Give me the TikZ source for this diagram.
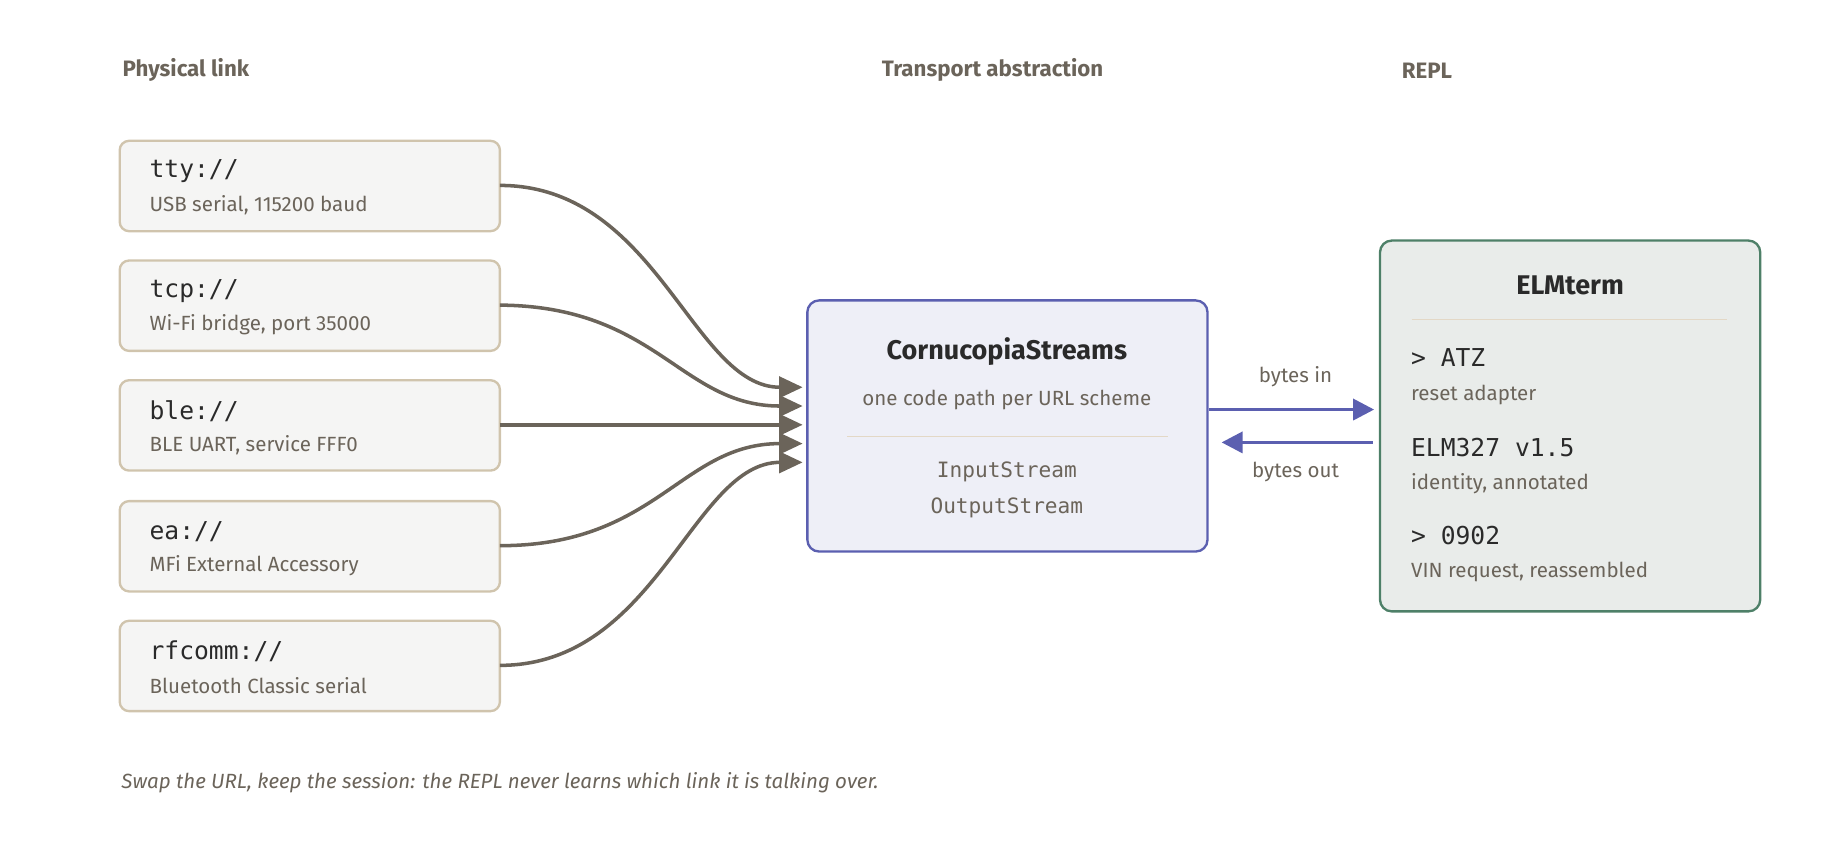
\documentclass[tikz,border=0pt]{standalone}
\usepackage{fontspec}
\setmainfont{Fira Sans}
\setmonofont{DejaVu Sans Mono}
\usetikzlibrary{arrows.meta}
\definecolor{ink}{HTML}{6B645A}
\definecolor{dark}{HTML}{2A2A2A}
\definecolor{lbord}{HTML}{D0C4AD}
\definecolor{lfill}{HTML}{F5F5F4}
\definecolor{cblue}{HTML}{5B5FB0}
\definecolor{cfill}{HTML}{EEEFF7}
\definecolor{gbord}{HTML}{4E8068}
\definecolor{gfill}{HTML}{E9ECEA}
\definecolor{rule}{HTML}{E3D8C6}
\begin{document}
\begin{tikzpicture}[x=1pt,y=-1pt,
  hdr/.style={anchor=west,text=ink,font=\fontsize{19}{19}\selectfont\bfseries},
  lbox/.style={draw=lbord,fill=lfill,line width=2pt,rounded corners=8pt},
  mono/.style={anchor=west,text=dark,font=\fontsize{21}{21}\ttfamily},
  sub/.style={anchor=west,text=ink,font=\fontsize{17.5}{17.5}\selectfont},
  conn/.style={draw=ink,line width=3pt,-{Triangle[length=20pt,width=18pt]}},
  barrow/.style={draw=cblue,line width=3pt,-{Triangle[length=18pt,width=18pt]}}]
\useasboundingbox (0,0) rectangle (1568,716);
\node[hdr] (h1) at (101,60) {Physical link};
\node[hdr] (h2) at (748,60) {Transport abstraction};
\node[hdr] (h3) at (1191,60) {REPL};
\foreach \n/\y/\a/\b in {tty/120/tty:\slash\slash/{USB serial, 115200 baud},
  tcp/222/tcp:\slash\slash/{Wi-Fi bridge, port 35000},
  ble/324/ble:\slash\slash/{BLE UART, service FFF0},
  ea/427/ea:\slash\slash/{MFi External Accessory},
  rf/529/rfcomm:\slash\slash/{Bluetooth Classic serial}}{
  \path[lbox] (102,\y) rectangle (426,\y+77);
  \coordinate (\n) at (426,\y+38);
  \node[mono] (\n t) at (124,\y+26) {\a};
  \node[sub] (\n s) at (124,\y+55) {\b};
}
\path[draw=cblue,fill=cfill,line width=2pt,rounded corners=10pt] (688,256) rectangle (1029,470);
\node[text=dark,font=\fontsize{23}{23}\selectfont\bfseries] (ct) at (858,300) {CornucopiaStreams};
\node[text=ink,font=\fontsize{17.5}{17.5}\selectfont] (cs) at (858,341) {one code path per URL scheme};
\draw[rule,line width=1pt] (722,372) -- (995,372);
\node[text=ink,font=\fontsize{18}{18}\ttfamily] (ci) at (858,402) {InputStream};
\node[text=ink,font=\fontsize{18}{18}\ttfamily] (co) at (858,433) {OutputStream};
\foreach \y/\n in {330/tty,346/tcp,362/ble,378/ea,394/rf}{\coordinate (t\n) at (684,\y);}
\draw[conn] (tty) .. controls (560,158) and (590,330) .. (ttty);
\draw[conn] (tcp) .. controls (560,261) and (580,346) .. (ttcp);
\draw[conn] (ble) -- (tble);
\draw[conn] (ea) .. controls (560,465) and (580,378) .. (tea);
\draw[conn] (rf) .. controls (560,567) and (590,394) .. (trf);
\coordinate (bi1) at (1030,349); \coordinate (bi2) at (1171,349);
\coordinate (bo1) at (1170,377); \coordinate (bo2) at (1041,377);
\draw[barrow] (bi1) -- (bi2);
\draw[barrow] (bo1) -- (bo2);
\node[text=ink,font=\fontsize{17.5}{17.5}\selectfont] (bil) at (1104,321) {bytes in};
\node[text=ink,font=\fontsize{17.5}{17.5}\selectfont] (bol) at (1104,402) {bytes out};
\path[draw=gbord,fill=gfill,line width=2pt,rounded corners=10pt] (1176,205) rectangle (1500,521);
\node[text=dark,font=\fontsize{23}{23}\selectfont\bfseries] (et) at (1338,243) {ELMterm};
\draw[rule,line width=1pt] (1203,272) -- (1472,272);
\node[mono] (e1) at (1199,305) {> ATZ};
\node[sub] (e2) at (1199,337) {reset adapter};
\node[mono] (e3) at (1199,381) {ELM327 v1.5};
\node[sub] (e4) at (1199,412) {identity, annotated};
\node[mono] (e5) at (1199,456) {> 0902};
\node[sub] (e6) at (1199,487) {VIN request, reassembled};
\node[anchor=west,text=ink,font=\fontsize{17.5}{17.5}\selectfont\itshape] (foot) at (100,667) {Swap the URL, keep the session: the REPL never learns which link it is talking over.};
\end{tikzpicture}
\end{document}
